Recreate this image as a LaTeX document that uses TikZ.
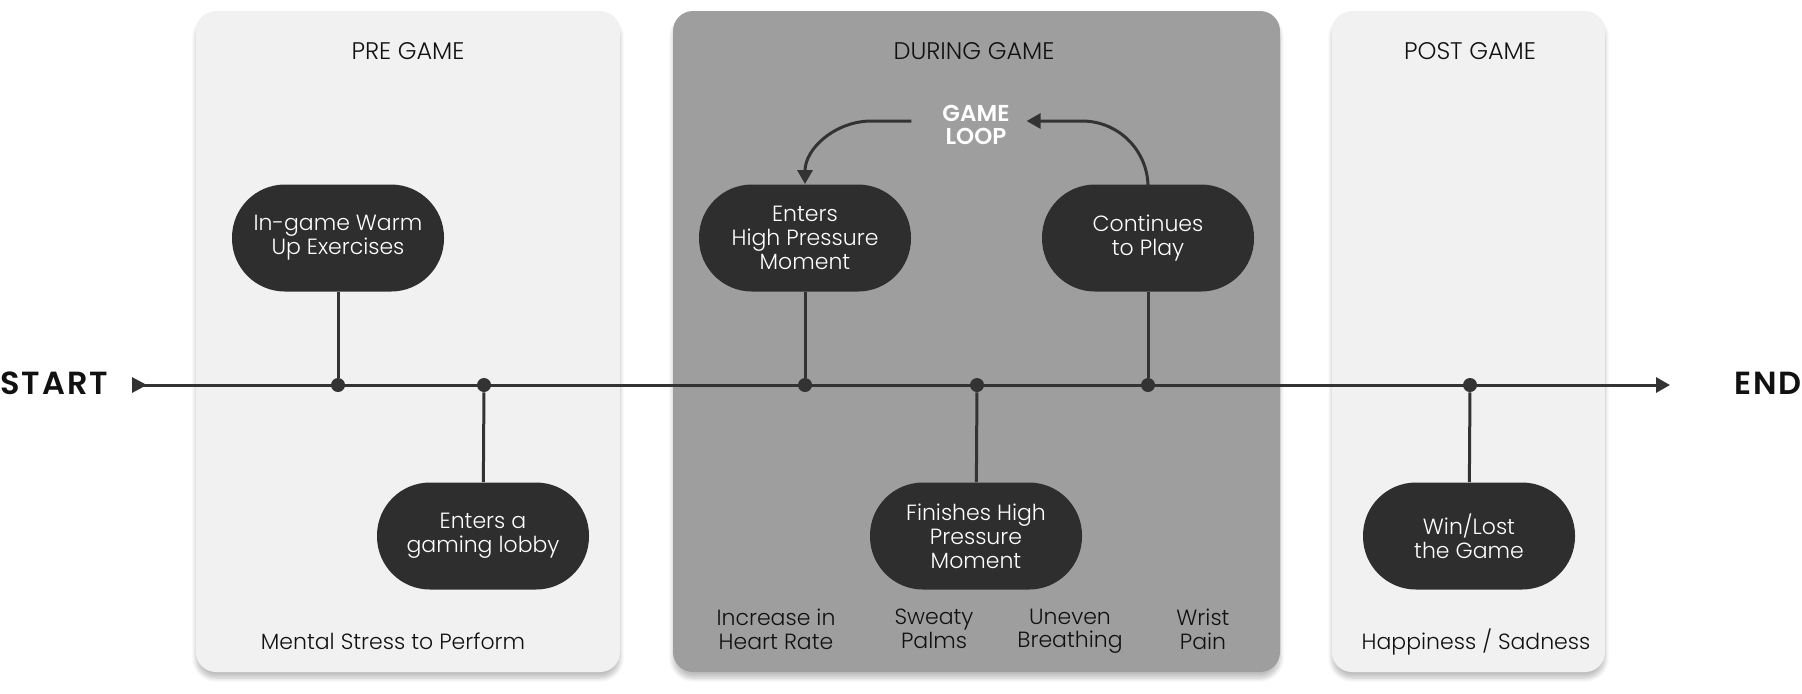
\documentclass[tikz,border=0pt]{standalone}
\usepackage{fontspec}
\setmainfont{Poppins}[UprightFont=* Light, BoldFont=* SemiBold]
\usetikzlibrary{arrows.meta,shadows.blur}
\definecolor{chiaro}{HTML}{F1F1F1}
\definecolor{scuro}{HTML}{9E9E9E}
\definecolor{nodo}{HTML}{2E2E2E}
\definecolor{tratto}{HTML}{333333}
\definecolor{testo}{HTML}{111111}
\begin{document}
\begin{tikzpicture}[x=0.5pt, y=-0.5pt,
        fase/.style={rounded corners=10pt, blur shadow={shadow xshift=0pt, shadow yshift=-3pt, shadow blur steps=8, shadow opacity=25}},
        titolo/.style={text=testo, font=\fontsize{12}{14}\selectfont},
        estremo/.style={inner sep=0pt, text=testo, font=\bfseries\fontsize{16}{16}\selectfont\addfontfeatures{LetterSpace=6}},
        evento/.style={fill=nodo, text=white, rounded corners=26.5pt, minimum width=106pt, minimum height=53.5pt, inner sep=0pt, align=center, font=\fontsize{11}{11.9}\selectfont},
        effetto/.style={text=testo, align=center, anchor=north, inner sep=0pt, font=\fontsize{11}{11.6}\selectfont},
        punto/.style={circle, fill=tratto, inner sep=0pt, minimum size=7pt},
        linea/.style={line width=1.5pt, draw=tratto},
        punta/.style={-{Triangle[length=7pt, width=7.5pt]}}]
        \useasboundingbox (0,0) rectangle (1802,693);

        % Fasi
        \fill[chiaro, fase] (196,11) rectangle (620,672);
        \fill[scuro, fase] (673,11) rectangle (1280,672);
        \fill[chiaro, fase] (1332,11) rectangle (1605,672);
        \node[titolo] (pre) at (408,51) {PRE GAME};
        \node[titolo] (durante) at (974,51) {DURING GAME};
        \node[titolo] (post) at (1470,51) {POST GAME};

        % Linea del tempo
        \node[estremo, anchor=west] (start) at (0,383) {START};
        \node[estremo, anchor=east] (end) at (1802,383) {END};
        \coordinate (inizio) at (132,385);
        \coordinate (fine) at (1670,385);
        \draw[linea, {Triangle[reversed, length=7.5pt, width=7.5pt]}-{Triangle[length=7pt, width=7.5pt]}] (inizio) -- (fine);

        % Punti sulla linea
        \node[punto] (p1) at (338,385) {};
        \node[punto] (p2) at (484,385) {};
        \node[punto] (p3) at (805,385) {};
        \node[punto] (p4) at (977,385) {};
        \node[punto] (p5) at (1148,385) {};
        \node[punto] (p6) at (1470,385) {};

        % Eventi
        \node[evento] (riscaldamento) at (338,238) {In-game Warm\\Up Exercises};
        \node[evento] (lobby) at (483,536) {Enters a\\gaming lobby};
        \node[evento] (entra) at (805,238) {Enters\\High Pressure\\Moment};
        \node[evento] (finisce) at (976,536) {Finishes High\\Pressure\\Moment};
        \node[evento] (continua) at (1148,238) {Continues\\to Play};
        \node[evento] (esito) at (1469,536) {Win/Lost\\the Game};
        \draw[linea] (riscaldamento) -- (p1);
        \draw[linea] (lobby) -- (p2);
        \draw[linea] (entra) -- (p3);
        \draw[linea] (finisce) -- (p4);
        \draw[linea] (continua) -- (p5);
        \draw[linea] (esito) -- (p6);

        % Ciclo di gioco
        \node[text=white, align=center, font=\bfseries\fontsize{11.5}{11.75}\selectfont] (ciclo) at (976,125) {GAME\\LOOP};
        \draw[linea, punta] ([xshift=-12pt, yshift=2pt]ciclo.west) -- ++(-40,0) to[out=180, in=90] (entra.north);
        \draw[linea, punta, rounded corners=33pt] (continua.north) |- ([xshift=5pt, yshift=2pt]ciclo.east);

        % Effetti
        \node[effetto] (stress) at (393,632) {Mental Stress to Perform};
        \node[effetto] (cuore) at (776,609) {Increase in\\Heart Rate};
        \node[effetto] (mani) at (934,609) {Sweaty\\Palms};
        \node[effetto] (respiro) at (1070,609) {Uneven\\Breathing};
        \node[effetto] (polso) at (1203,609) {Wrist\\Pain};
        \node[effetto] (umore) at (1476,628) {Happiness / Sadness};
    \end{tikzpicture}
\end{document}
